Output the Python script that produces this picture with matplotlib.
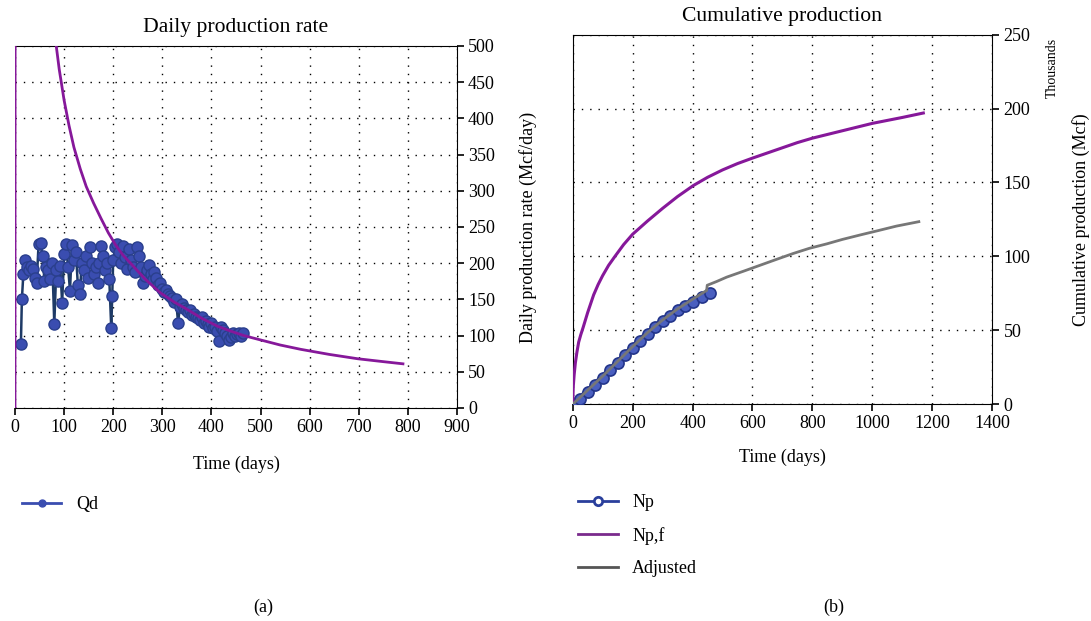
import numpy as np
import matplotlib.pyplot as plt

plt.rcParams.update({'font.family': ['Liberation Serif', 'DejaVu Serif'], 'font.size': 13})

# daily production rate (Mcf/day), measured
t_qd = [12, 14, 17, 20, 24, 28, 32, 36, 40, 44, 48, 52, 56, 60, 64, 68, 72, 76, 80, 84,
        88, 92, 96, 100, 104, 108, 112, 116, 120, 124, 128, 132, 136, 140, 144, 148, 152,
        156, 160, 164, 168, 172, 176, 180, 184, 188, 192, 196, 198, 200, 204, 208, 212,
        216, 220, 224, 228, 232, 236, 240, 244, 248, 252, 256, 260, 264, 268, 272, 276,
        280, 284, 288, 292, 296, 300, 304, 308, 312, 316, 320, 324, 328, 332, 336, 340,
        344, 348, 352, 356, 360, 364, 368, 372, 376, 380, 384, 388, 392, 396, 400, 404,
        408, 412, 416, 420, 424, 428, 432, 436, 440, 444, 448, 452, 456, 460, 464]
qd = [88, 150, 185, 205, 195, 190, 196, 192, 180, 172, 226, 228, 210, 176, 195, 190, 178,
      200, 116, 190, 175, 196, 145, 212, 226, 195, 162, 225, 205, 215, 170, 158, 200, 190,
      210, 180, 223, 200, 185, 195, 172, 200, 224, 210, 190, 200, 178, 110, 155, 205, 222,
      226, 215, 200, 224, 208, 192, 220, 205, 195, 188, 222, 210, 195, 172, 182, 190, 198,
      185, 178, 188, 180, 170, 172, 165, 160, 163, 158, 155, 152, 146, 150, 118, 140, 143,
      138, 136, 132, 135, 128, 130, 126, 124, 122, 125, 118, 120, 116, 112, 118, 110, 112,
      106, 92, 112, 108, 104, 100, 94, 98, 104, 100, 102, 104, 100, 103]

# fitted rate curve
t_fit = [0, 1, 20, 40, 60, 84, 90, 100, 110, 120, 133, 145, 160, 175, 190, 205, 220, 242,
         265, 296, 325, 351, 380, 412, 440, 466, 500, 540, 582, 640, 698, 750, 790]
q_fit = [0, 2000, 1500, 900, 650, 500, 468, 425, 390, 360, 330, 306, 283, 262, 242, 225,
         211, 195, 178, 159, 146, 136, 124, 113, 106, 100, 94, 87, 81, 74, 68, 64, 61]

# cumulative production (thousands Mcf)
t_np = [0, 10, 25, 50, 75, 100, 125, 150, 175, 200, 225, 250, 275, 300, 325, 350, 375,
        400, 430, 458]
np_meas = [0, 1, 3.5, 8.5, 13, 18, 23, 28, 33, 38, 43, 47.5, 52, 56, 60, 63.5, 66.5,
           69.5, 72.5, 75]

t_npf = [0, 2, 5, 9, 14, 20, 27, 35, 50, 70, 85, 100, 120, 141, 170, 200, 250, 300, 350,
         403, 450, 500, 550, 600, 650, 700, 750, 800, 850, 900, 950, 1000, 1050, 1100, 1170]
npf = [0, 12, 20, 28, 35, 42, 47, 52, 62, 74, 81, 87, 94, 100, 108, 115, 124, 132.5, 140.5,
       148, 153.5, 158.5, 162.8, 166.5, 170, 173.5, 177, 180, 182.5, 185, 187.5, 190, 192,
       194, 197]

t_adj = [0, 50, 100, 150, 200, 250, 300, 350, 400, 447, 449, 480, 514, 570, 625, 680, 736,
         790, 848, 900, 959, 1020, 1080, 1155]
adj = [0, 9.5, 19, 29, 39, 48.5, 57, 64.5, 71, 77, 80.5, 83, 86, 90, 94, 98, 102, 105.5,
       108.5, 111.5, 114.5, 117.5, 120.5, 123.5]

blue = '#3a4db0'
purple = '#86189a'
gray = '#777777'

fig = plt.figure(figsize=(10.91, 6.21), dpi=100)
ax1 = fig.add_axes([0.01375, 0.343, 0.4051, 0.583])
ax2 = fig.add_axes([0.5249, 0.349, 0.3846, 0.5952])

# ---- (a) daily rate
ax1.plot(t_qd, qd, '-o', color='#1e3a66', lw=1.8, ms=8, mfc=blue, mec='#2a3f8c', mew=1,
         label='Qd', zorder=3)
ax1.plot(t_fit, q_fit, color=purple, lw=2, zorder=4)
ax1.set_xlim(0, 900)
ax1.set_ylim(0, 500)
ax1.set_xticks(range(0, 901, 100))
ax1.set_yticks(range(0, 501, 50))
ax1.yaxis.tick_right()
ax1.yaxis.set_label_position('right')
ax1.spines['left'].set_visible(False)
ax1.tick_params(direction='out', length=5, width=1.2, pad=3)
ax1.grid(True, linestyle=(0, (1, 5)), color='black', lw=1)
ax1.set_title('Daily production rate', pad=10)
ax1.set_xlabel('Time (days)', labelpad=14)
ax1.set_ylabel('Daily production rate (Mcf/day)', labelpad=17)
h = [plt.Line2D([], [], color=blue, lw=2, marker='o', ms=5, mfc=blue, mec=blue)]
ax1.legend(h, ['Qd'], loc='center left', bbox_to_anchor=(0.005, 0.187),
           bbox_transform=fig.transFigure, frameon=False, handlelength=2.2)

# ---- (b) cumulative
ax2.plot(t_np, np_meas, '-o', color='#2a3f9c', lw=5, ms=8, mfc='#4a5fc0', mec='#23358a',
         mew=1.2, zorder=3)
ax2.plot(t_npf, npf, color=purple, lw=2.2, zorder=4)
ax2.plot(t_adj, adj, color=gray, lw=2, zorder=4)
ax2.set_xlim(0, 1400)
ax2.set_ylim(0, 250)
ax2.set_xticks(range(0, 1401, 200))
ax2.set_yticks(range(0, 251, 50))
ax2.yaxis.tick_right()
ax2.yaxis.set_label_position('right')
ax2.tick_params(direction='out', length=5, width=1.2, pad=3)
ax2.grid(True, linestyle=(0, (1, 5)), color='black', lw=1)
ax2.set_title('Cumulative production', pad=10)
ax2.set_xlabel('Time (days)', labelpad=12)
ax2.set_ylabel('Cumulative production (Mcf)', labelpad=30)
fig.text(0.9645, 0.89, 'Thousands', rotation=90, fontsize=10, ha='center', va='center')
hb = [plt.Line2D([], [], color='#2a3f9c', lw=2, marker='o', ms=6, mfc='white',
                 mec='#2a3f9c', mew=2),
      plt.Line2D([], [], color='#7a2a8c', lw=2),
      plt.Line2D([], [], color='#555555', lw=2)]
ax2.legend(hb, ['Np', 'Np,f', 'Adjusted'], loc='upper left', bbox_to_anchor=(0.515, 0.23),
           bbox_transform=fig.transFigure, frameon=False, handlelength=2.2, labelspacing=0.85)

fig.text(0.241, 0.015, '(a)', ha='center', fontsize=13)
fig.text(0.764, 0.015, '(b)', ha='center', fontsize=13)

fig.savefig('out.png', dpi=100)
